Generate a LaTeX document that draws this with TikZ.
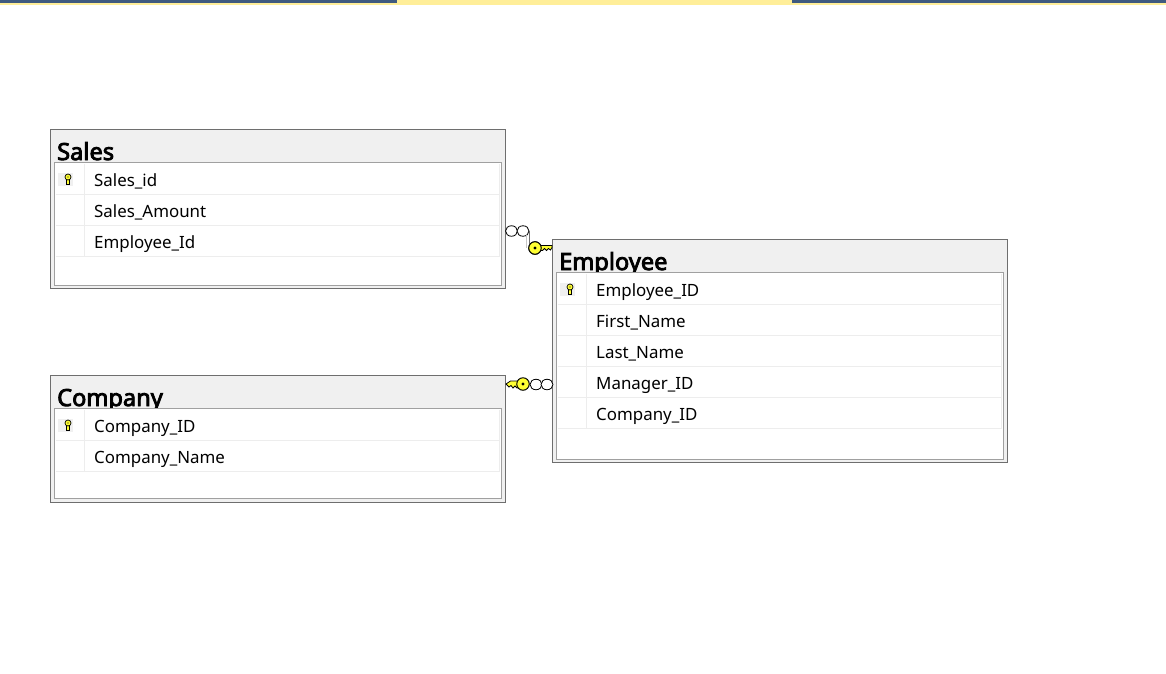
\documentclass[tikz,border=0pt]{standalone}
\usepackage{fontspec}
\setmainfont{Noto Sans}
\newfontfamily\titlefont[FakeBold=3.5]{Noto Sans}
\definecolor{navybar}{HTML}{3F5A7F}
\definecolor{palebar}{HTML}{FFEE99}
\definecolor{headgray}{HTML}{F0F0F0}
\definecolor{framedark}{HTML}{6E6E6E}
\definecolor{frameinner}{HTML}{A0A0A0}
\definecolor{gridlight}{HTML}{EDEDED}
\definecolor{keyyellow}{HTML}{FFFF33}
\usetikzlibrary{shapes.geometric}
\tikzset{
  tableframe/.style={draw=framedark,line width=1pt,fill=headgray,anchor=north west,inner sep=0pt,outer sep=0pt,minimum width=455pt},
  innerframe/.style={draw=frameinner,line width=1pt,fill=white,anchor=north west,inner sep=0pt,outer sep=0pt,minimum width=446.5pt},
  tabletitle/.style={anchor=base west,inner sep=0pt,font=\fontsize{23.6}{24}\selectfont\titlefont},
  rowtext/.style={anchor=base west,inner sep=0pt,font=\fontsize{16.9}{17}\selectfont},
  gridline/.style={draw=gridlight,line width=1pt},
  crowfoot/.style={ellipse,draw=black,fill=white,line width=.8pt,minimum width=12pt,minimum height=10.5pt,inner sep=0pt,outer sep=0pt},
  keyring/.style={circle,draw=black,fill=keyyellow,line width=1pt,minimum size=12.5pt,inner sep=0pt,outer sep=0pt},
  keyblade/.style={draw=black,fill=keyyellow,line width=.8pt,line join=miter},
  linkdark/.style={draw=framedark,line width=1pt},
  linklight/.style={draw=frameinner!60,line width=1pt},
}
\newcommand{\dbtable}[6]{%
  \node[tableframe,minimum height=#4pt] (#1) at (#2,#3) {};
  \node[tabletitle] (#1title) at ({#2+6.5},{#3+30.5}) {#5};
  \node[innerframe,minimum height=#6pt] (#1inner) at ({#2+4},{#3+33}) {};
}
\newcommand{\dbgrid}[3]{%
  \draw[gridline] ({#1+30},{#2+1}) -- ({#1+30},{#2+1+31*#3});
  \draw[gridline] ({#1+444.5},{#2+1}) -- ({#1+444.5},{#2+1+31*#3});
  \foreach \r in {1,...,#3} {\draw[gridline] ({#1+1},{#2+31*\r+1}) -- ({#1+444.5},{#2+31*\r+1});}
}
\newcommand{\rowkey}[3]{%
  \fill[headgray] ({#2-10},{#3-6.5}) rectangle ({#2+5},{#3+6.5});
  \draw[keyblade,line width=.7pt] ({#2-1.5},{#3}) -- ({#2-1.5},{#3+5}) -- ({#2+1.5},{#3+5}) -- ({#2+1.5},{#3}) -- cycle;
  \node[circle,draw=black,fill=keyyellow,line width=.7pt,minimum size=6pt,inner sep=0pt] (#1) at (#2,{#3-2}) {};
  \fill[black] (#2,{#3-2}) circle (.7pt);
}
\begin{document}
\begin{tikzpicture}[x=1pt,y=-1pt]
\useasboundingbox (0,0) rectangle (1166,673);
\fill[palebar] (0,0) rectangle (1166,5);
\fill[navybar] (0,0) rectangle (397,3);
\fill[navybar] (792,0) rectangle (1166,3);
\dbtable{sales}{50.5}{129.5}{159}{Sales}{122.5}
\dbtable{employee}{552.5}{239.5}{223}{Employee}{186.5}
\dbtable{company}{50.5}{375.5}{127}{Company}{90}
\dbgrid{54.5}{162.5}{3}
\dbgrid{556.5}{272.5}{5}
\dbgrid{54.5}{408.5}{2}
\rowkey{saleskey}{68}{179}
\rowkey{employeekey}{570}{289}
\rowkey{companykey}{68}{425}
\node[rowtext] (s1) at (94,186) {Sales\_id};
\node[rowtext] (s2) at (94,217) {Sales\_Amount};
\node[rowtext] (s3) at (94,248) {Employee\_Id};
\node[rowtext] (e1) at (596,296) {Employee\_ID};
\node[rowtext] (e2) at (596,327) {First\_Name};
\node[rowtext] (e3) at (596,358) {Last\_Name};
\node[rowtext] (e4) at (596,389) {Manager\_ID};
\node[rowtext] (e5) at (596,420) {Company\_ID};
\node[rowtext] (c1) at (94,432) {Company\_ID};
\node[rowtext] (c2) at (94,463) {Company\_Name};
\node[crowfoot] (sf1) at (511.5,231) {};
\node[crowfoot] (sf2) at (523,231) {};
\node[keyring] (sk) at (535,248) {};
\coordinate (bendlight) at (526,235);
\coordinate (bendlightend) at (526,248);
\coordinate (benddark) at (529,231);
\draw[linklight] (bendlight) -- (bendlightend);
\draw[linkdark] (sf2.east) -- (benddark) -- (benddark |- sk.west) -- (sk.west);
\draw[keyblade] (538,245.5) -- (552,245.5) -- (552,247.5) -- (550.5,250) -- (548.5,248.5) -- (546.5,250.5) -- (544.5,248.5) -- (542.5,250.5) -- (538,250.5) -- cycle;
\node[keyring] at (sk) {};
\fill[black] (sk) circle (1.6pt);
\draw[keyblade] (520,381) -- (510.5,381) -- (506,384) -- (509,387) -- (511,385.5) -- (513,388) -- (515,386) -- (517,388) -- (520,387) -- cycle;
\node[keyring] (ck) at (523,384) {};
\fill[black] (ck) circle (1.6pt);
\node[crowfoot] (cf1) at (536,384.5) {};
\node[crowfoot] (cf2) at (547,384.5) {};
\end{tikzpicture}
\end{document}
